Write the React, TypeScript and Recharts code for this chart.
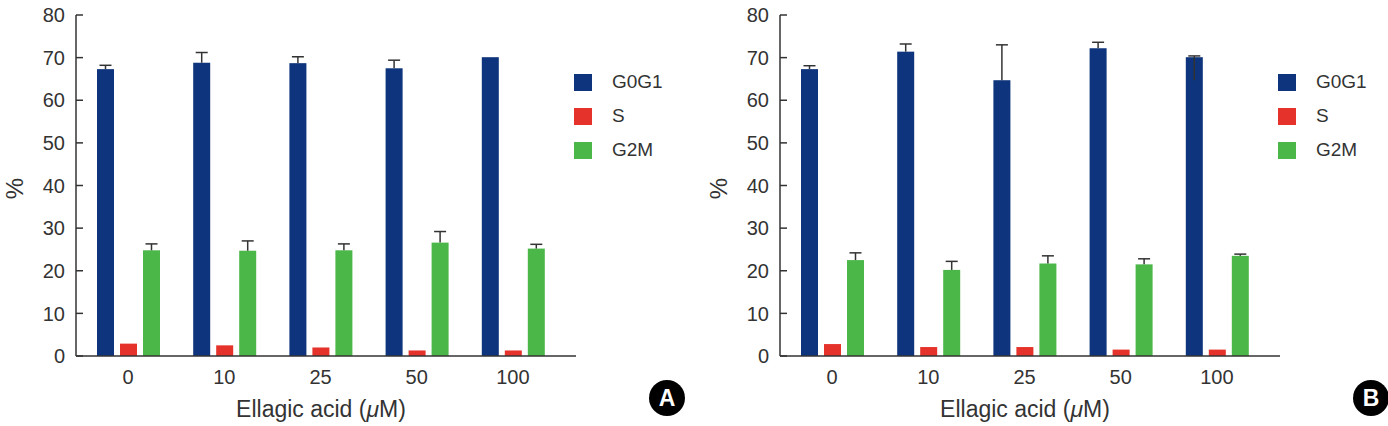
import { BarChart, Bar, XAxis, YAxis, Legend } from "recharts";

const FONT = '"Liberation Sans", Arial, Helvetica, sans-serif';
const INK = "#333";

const doses = ["0", "10", "25", "50", "100"];
const yTicks = [0, 10, 20, 30, 40, 50, 60, 70, 80];

const phaseNames = ["G0G1", "S", "G2M"];
const phaseColors = ["#0d347c", "#e5322a", "#4bb749"];

// panel A
const g0g1A = [67.3, 68.8, 68.7, 67.5, 70.1];
const g0g1UpA = [0.9, 2.4, 1.5, 1.9, 0];
const g0g1DownA = [0, 0, 0, 0, 0];
const sA = [2.9, 2.5, 2.0, 1.3, 1.3];
const g2mA = [24.8, 24.7, 24.8, 26.6, 25.2];
const g2mUpA = [1.5, 2.3, 1.5, 2.6, 1.0];

// panel B
const g0g1B = [67.3, 71.4, 64.7, 72.2, 70.1];
const g0g1UpB = [0.8, 1.8, 8.3, 1.4, 0.3];
const g0g1DownB = [0, 0, 0, 0, 5.4];
const sB = [2.8, 2.1, 2.1, 1.5, 1.5];
const g2mB = [22.5, 20.2, 21.7, 21.5, 23.5];
const g2mUpB = [1.7, 2.0, 1.8, 1.3, 0.4];

function buildRows(g0g1, g0g1Up, g0g1Down, s, g2m, g2mUp) {
  return doses.map((dose, i) => ({
    dose,
    G0G1: g0g1[i],
    S: s[i],
    G2M: g2m[i],
    G0G1_err: [g0g1Down[i], g0g1Up[i]],
    G2M_err: [0, g2mUp[i]],
  }));
}

const rowsA = buildRows(g0g1A, g0g1UpA, g0g1DownA, sA, g2mA, g2mUpA);
const rowsB = buildRows(g0g1B, g0g1UpB, g0g1DownB, sB, g2mB, g2mUpB);

// bar rect plus an upward whisker, scaled with the bar's own px-per-unit
function WhiskerBar(props: any) {
  const { x, y, width, height, fill, payload, valueKey, errKey } = props;
  const err = errKey ? payload[errKey] : null;
  const unit = height / payload[valueKey];
  const cx = x + width / 2;
  const top = err ? y - err[1] * unit : y;
  return (
    <g>
      <rect x={x} y={y} width={width} height={height} fill={fill} />
      {err && err[1] > 0 && (
        <g stroke={INK} strokeWidth={1.5}>
          <line x1={cx} x2={cx} y1={top} y2={y + err[0] * unit} />
          <line x1={cx - 6} x2={cx + 6} y1={top} y2={top} />
        </g>
      )}
    </g>
  );
}

function InwardTick(props: any) {
  const { x, y, payload } = props;
  return (
    <g>
      <line x1={x + 11} x2={x + 18} y1={y} y2={y} stroke={INK} strokeWidth={1.5} />
      <text x={x} y={y} dy="0.36em" textAnchor="end" fontSize={20} fill={INK} fontFamily={FONT}>
        {payload.value}
      </text>
    </g>
  );
}

function PercentLabel(props: any) {
  const { viewBox } = props;
  const cx = viewBox.x + 14;
  const cy = viewBox.y + viewBox.height / 2 + 3;
  return (
    <text
      x={cx}
      y={cy}
      transform={`rotate(-90, ${cx}, ${cy})`}
      textAnchor="middle"
      dominantBaseline="central"
      fontSize={24}
      fill={INK}
      fontFamily={FONT}
    >
      %
    </text>
  );
}

function DoseLabel(props: any) {
  const { viewBox } = props;
  return (
    <text
      x={viewBox.x + viewBox.width / 2 - 5}
      y={viewBox.y + 61}
      textAnchor="middle"
      fontSize={23}
      fill={INK}
      fontFamily={FONT}
    >
      Ellagic acid (<tspan fontStyle="italic">μ</tspan>M)
    </text>
  );
}

function PhaseLegend(props: any) {
  const items = [...(props.payload || [])].sort(
    (a: any, b: any) => phaseNames.indexOf(a.value) - phaseNames.indexOf(b.value)
  );
  return (
    <div style={{ fontFamily: FONT }}>
      {items.map((item: any) => (
        <div key={item.value} style={{ display: "flex", alignItems: "center", height: 34 }}>
          <span style={{ width: 18, height: 17, background: item.color, marginRight: 20, display: "inline-block" }} />
          <span style={{ fontSize: 19, color: INK }}>{item.value}</span>
        </div>
      ))}
    </div>
  );
}

function CyclePanel({ rows, tag }: { rows: any[]; tag: string }) {
  return (
    <div style={{ position: "relative", width: 704, height: 426, flex: "none" }}>
      <BarChart
        width={704}
        height={426}
        data={rows}
        margin={{ top: 15, right: 128, bottom: 10, left: 0 }}
        barSize={17}
        barGap={6}
      >
        <XAxis
          dataKey="dose"
          height={60}
          padding={{ left: 4, right: 15 }}
          axisLine={{ stroke: INK, strokeWidth: 1.5 }}
          tickLine={false}
          tickSize={0}
          tickMargin={14}
          tick={{ fontSize: 20, fill: INK, fontFamily: FONT }}
          label={<DoseLabel />}
        />
        <YAxis
          width={76}
          domain={[0, 80]}
          ticks={yTicks}
          interval={0}
          axisLine={{ stroke: INK, strokeWidth: 1.5 }}
          tickLine={false}
          tickSize={0}
          tickMargin={11}
          tick={<InwardTick />}
          label={<PercentLabel />}
        />
        <Legend
          layout="vertical"
          align="center"
          verticalAlign="middle"
          wrapperStyle={{ left: 574, top: 65, width: "auto" }}
          content={<PhaseLegend />}
        />
        {phaseNames.map((name, i) => (
          <Bar
            key={name}
            dataKey={name}
            name={name}
            fill={phaseColors[i]}
            isAnimationActive={false}
            shape={(p: any) => (
              <WhiskerBar {...p} valueKey={name} errKey={name === "S" ? null : `${name}_err`} />
            )}
          />
        ))}
      </BarChart>
      <div
        style={{
          position: "absolute",
          left: 649,
          top: 380,
          width: 36,
          height: 36,
          borderRadius: "50%",
          background: "#000",
          color: "#fff",
          fontFamily: FONT,
          fontWeight: "bold",
          fontSize: 23,
          lineHeight: "36px",
          textAlign: "center",
        }}
      >
        {tag}
      </div>
    </div>
  );
}

export default function App() {
  return (
    <div
      style={{
        position: "absolute",
        left: 0,
        top: 0,
        width: 1388,
        height: 426,
        overflow: "hidden",
        background: "#fff",
        display: "flex",
        fontFamily: FONT,
      }}
    >
      <CyclePanel rows={rowsA} tag="A" />
      <CyclePanel rows={rowsB} tag="B" />
    </div>
  );
}
